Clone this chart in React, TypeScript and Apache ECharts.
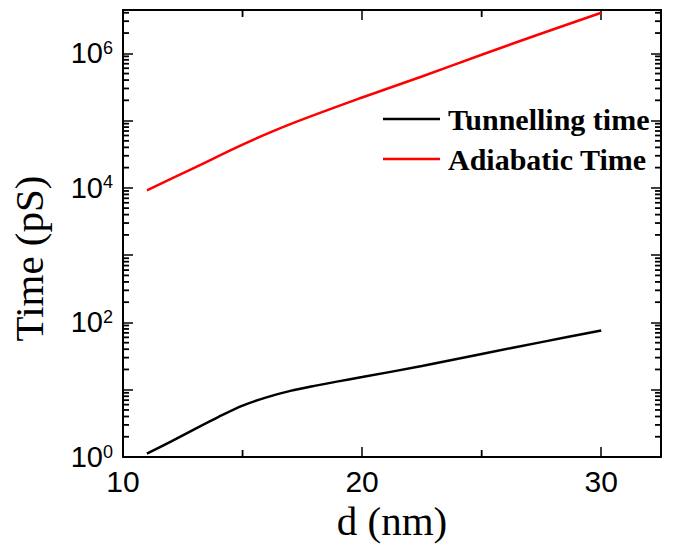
import React, { useEffect, useRef } from 'react';
import * as echarts from 'echarts';

const X_MIN = 10;
const X_MAX = 32.5;
const Y_MIN = 1;
const Y_MAX = 4.4e6;

const tunnellingD = [11, 12, 13, 14, 15, 16, 17, 18, 19, 20, 22.5, 25, 27.5, 30];
const tunnellingTime = [1.12, 1.69, 2.6, 3.95, 5.8, 7.7, 9.6, 11.4, 13.3, 15.4, 22.5, 34, 51, 76];
const adiabaticD = [11, 13, 15, 17, 20, 22.5, 25, 27.5, 30];
const adiabaticTime = [9200, 20000, 44000, 88500, 220000, 452000, 953000, 1970000, 4000000];
const seriesNames = ['Tunnelling time', 'Adiabatic Time'];
const xLabelValues = [10, 20, 30];
const xMinorTickValues = [15, 25];
const yLabelExponents = [0, 2, 4, 6];

const minorYTicks: number[] = [];
for (let e = 0; e <= 6; e++) {
  for (let k = 2; k <= 9; k++) {
    const v = k * Math.pow(10, e);
    if (v <= Y_MAX) minorYTicks.push(v);
  }
}

const axisLineStyle = { color: '#000', width: 2 };
const tickStyle = { color: '#000', width: 1.5 };

function yLabel(v: number): string {
  const e = Math.log10(v);
  const r = Math.round(e);
  if (Math.abs(e - r) > 1e-6) return '';
  if (!yLabelExponents.includes(r)) return '';
  return '{b|10}{s|' + r + '}';
}

function xLabel(v: number): string {
  const r = Math.round(v);
  return Math.abs(v - r) < 1e-6 && xLabelValues.includes(r) ? String(r) : '';
}

const yTitle = {
  type: 'text',
  x: 28.5,
  y: 258.5,
  rotation: Math.PI / 2,
  style: {
    text: 'Time (pS)',
    fontFamily: 'Liberation Serif',
    fontSize: 41,
    fill: '#000',
    align: 'center',
    verticalAlign: 'middle',
  },
};

export default function App() {
  const ref = useRef<HTMLDivElement>(null);
  useEffect(() => {
    document.body.style.margin = '0';
    if (!ref.current) return;
    const chart = echarts.init(ref.current, null, { renderer: 'svg' });
    const baseX = {
      type: 'value' as const,
      min: X_MIN,
      max: X_MAX,
      interval: 10,
      splitLine: { show: false },
      axisLine: { show: true, onZero: false, lineStyle: axisLineStyle },
      axisTick: { show: true, inside: true, length: 10, lineStyle: tickStyle },
    };
    const baseY = {
      type: 'log' as const,
      min: Y_MIN,
      max: Y_MAX,
      splitLine: { show: false },
      axisLine: { show: true, onZero: false, lineStyle: axisLineStyle },
      axisTick: { show: true, inside: true, length: 10, lineStyle: tickStyle },
    };
    chart.setOption({
      animation: false,
      grid: { left: 123, right: 31, top: 10, bottom: 91 },
      legend: {
        data: seriesNames,
        orient: 'vertical',
        left: 383,
        top: 104,
        padding: 0,
        icon: 'rect',
        itemWidth: 57,
        itemHeight: 2.5,
        itemGap: 10,
        textStyle: {
          fontFamily: 'Liberation Serif',
          fontWeight: 'bold',
          fontSize: 30,
          lineHeight: 30,
          color: '#000',
          padding: [0, 0, 0, 3],
        },
      },
      xAxis: [
        {
          ...baseX,
          position: 'bottom',
          axisLabel: {
            show: true,
            margin: 9,
            fontFamily: 'Liberation Sans',
            fontSize: 30,
            color: '#000',
            formatter: xLabel,
          },
          name: 'd (nm)',
          nameLocation: 'middle',
          nameGap: 43,
          nameTextStyle: { fontFamily: 'Liberation Serif', fontSize: 41, color: '#000' },
        },
        { ...baseX, position: 'top', axisLabel: { show: false } },
      ],
      yAxis: [
        {
          ...baseY,
          position: 'left',
          axisLabel: {
            show: true,
            margin: 10,
            formatter: yLabel,
            rich: {
              b: { fontFamily: 'Liberation Sans', fontSize: 29, color: '#000', lineHeight: 29, verticalAlign: 'bottom' },
              s: { fontFamily: 'Liberation Sans', fontSize: 18, color: '#000', lineHeight: 18, verticalAlign: 'top' },
            },
          },
        },
        { ...baseY, position: 'right', axisLabel: { show: false } },
      ],
      series: [
        {
          name: seriesNames[0],
          type: 'line',
          data: tunnellingD.map((d, i) => [d, tunnellingTime[i]]),
          symbol: 'none',
          smooth: 0.3,
          lineStyle: { color: '#000', width: 2.5 },
          itemStyle: { color: '#000' },
        },
        {
          name: seriesNames[1],
          type: 'line',
          data: adiabaticD.map((d, i) => [d, adiabaticTime[i]]),
          symbol: 'none',
          smooth: 0.3,
          lineStyle: { color: '#ff0000', width: 2.5 },
          itemStyle: { color: '#ff0000' },
        },
      ],
    });

    // Minor ticks, positioned through the chart's own scales (convertToPixel).
    const finder = { xAxisIndex: 0, yAxisIndex: 0 };
    const tickEls: any[] = [];
    const tickRect = (x: number, y: number, w: number, h: number) => ({
      type: 'rect',
      z: 100,
      shape: { x, y, width: w, height: h },
      style: { fill: '#000', stroke: 'none' },
    });
    try {
      minorYTicks.forEach((v) => {
        const l = chart.convertToPixel(finder, [X_MIN, v]) as number[];
        const r = chart.convertToPixel(finder, [X_MAX, v]) as number[];
        tickEls.push(tickRect(l[0], l[1] - 0.9, 6, 1.8));
        tickEls.push(tickRect(r[0] - 6, r[1] - 0.9, 6, 1.8));
      });
      xMinorTickValues.forEach((v) => {
        const b = chart.convertToPixel(finder, [v, Y_MIN]) as number[];
        const t = chart.convertToPixel(finder, [v, Y_MAX]) as number[];
        tickEls.push(tickRect(b[0] - 0.9, b[1] - 7, 1.8, 7));
        tickEls.push(tickRect(t[0] - 0.9, t[1], 1.8, 7));
      });
    } catch (err) {
      // leave ticks out if conversion fails
    }
    chart.setOption({ graphic: { elements: [yTitle, ...tickEls] } });
    return () => chart.dispose();
  }, []);
  return <div ref={ref} style={{ width: 692, height: 548 }} />;
}
